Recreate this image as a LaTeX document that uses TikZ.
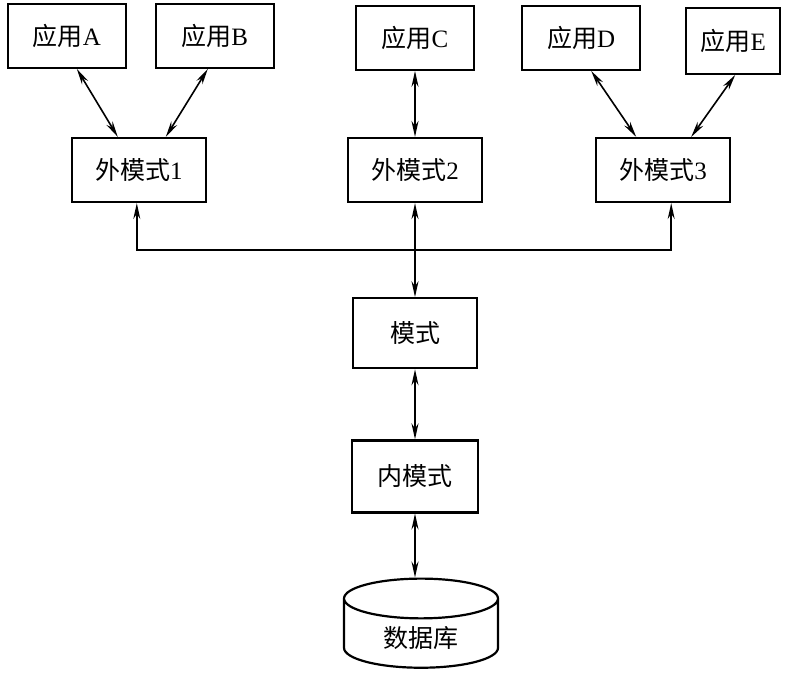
\documentclass[tikz,border=0pt]{standalone}
\usepackage{fontspec}
\setmainfont{Liberation Serif}
\newfontfamily\cjk{Noto Sans CJK SC}
\usetikzlibrary{shapes,shapes.geometric,positioning,calc,arrows.meta}

\begin{document}
\begin{tikzpicture}
            [
            box/.style={rectangle, draw, line width=1.1pt, minimum height=#1,
                font=\fontsize{12.5}{15}\selectfont},
            box/.default=32pt,
            app/.style={box, minimum width=59pt},
            ext/.style={box, minimum width=67pt},
            link/.style={{Stealth[length=8pt,width=3.5pt]}-{Stealth[length=8pt,width=3.5pt]}, line width=0.8pt},
            up/.style={-{Stealth[length=8pt,width=3.5pt]}, line width=0.8pt}
            ]

            \useasboundingbox (0,0) rectangle (395.5pt,-341pt);

            \node (ext2) [ext] at (207.5pt,-85pt) {{\cjk 外模式}2};
            \node (ext1) [left=70pt of ext2, ext] {{\cjk 外模式}1};
            \node (ext3) [right=56pt of ext2, ext] {{\cjk 外模式}3};

            % Applications
            \node (appA) [above=34pt of ext1, xshift=-36pt, app] {{\cjk 应用}A};
            \node (appB) [above=34pt of ext1, xshift=38pt, app] {{\cjk 应用}B};
            \node (appC) [above=33pt of ext2, app] {{\cjk 应用}C};
            \node (appD) [above=33pt of ext3, xshift=-41pt, app] {{\cjk 应用}D};
            \node (appE) [above=31pt of ext3, xshift=35pt, box=33pt, minimum width=47pt] {{\cjk 应用}E};

            \node (schema) [below=47pt of ext2, box=35pt, minimum width=62pt] {\cjk 模式};
            \node (inner) [below=35pt of schema, box=36pt, minimum width=63pt] {\cjk 内模式};
            \node (db) [below=32pt of inner, xshift=3pt, cylinder, shape border rotate=90, aspect=0.45,
                draw, line width=1.1pt, minimum height=43pt, minimum width=77pt,
                font=\fontsize{12.5}{15}\selectfont] {\cjk 数据库};

            \draw [link] ([xshift=-10.5pt]ext1.north) -- ([xshift=5pt]appA.south);
            \draw [link] ([xshift=13.5pt]ext1.north) -- ([xshift=-3.5pt]appB.south);
            \draw [link] (ext2.north) -- (appC.south);
            \draw [link] ([xshift=-13.5pt]ext3.north) -- ([xshift=5pt]appD.south);
            \draw [link] ([xshift=14pt]ext3.north) -- ([xshift=1pt]appE.south);

            % Bus to the external schemas
            \coordinate (bus) at ($(ext2.south)!0.5!(schema.north)$);
            \draw [up] (bus) -| ([xshift=-1pt]ext1.south);
            \draw [up] (bus) -| ([xshift=4pt]ext3.south);
            \draw [link] (ext2.south) -- (schema.north);
            \draw [link] (schema.south) -- (inner.north);
            \draw [link] (inner.south) -- ([xshift=-3pt]db.north);

        \end{tikzpicture}
\end{document}
